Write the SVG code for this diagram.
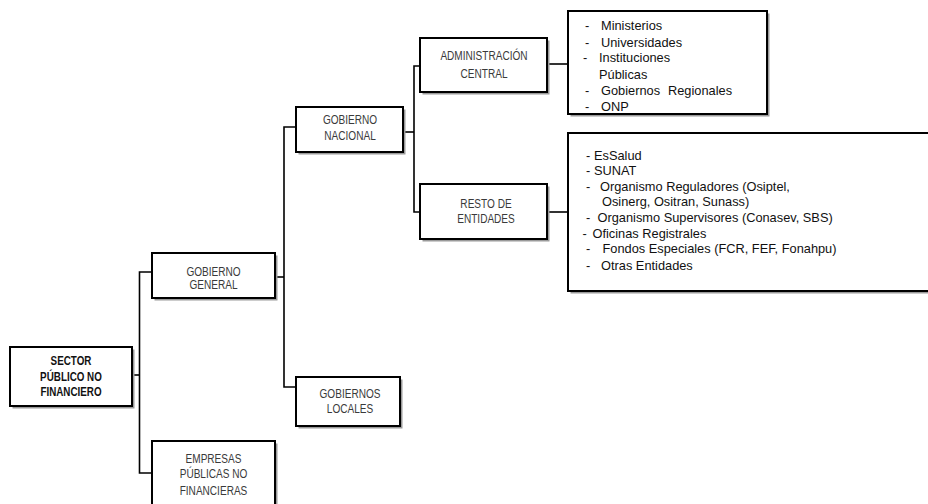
<svg xmlns="http://www.w3.org/2000/svg" width="928" height="504" viewBox="0 0 928 504">
<style>
.sh{fill:#9a9a9a;}
.bx{fill:#ffffff;stroke:#000000;stroke-width:2;}
.t{font-family:"Liberation Sans",Arial,sans-serif;font-size:12.6px;fill:#3a3a3a;text-anchor:middle;}
.tb{font-family:"Liberation Sans",Arial,sans-serif;font-size:12px;font-weight:bold;fill:#111111;text-anchor:middle;}
.l{font-family:"Liberation Sans",Arial,sans-serif;font-size:12.8px;fill:#111111;}
.c{fill:none;stroke:#000000;stroke-width:1.6;}
</style>
<rect width="928" height="504" fill="#ffffff"/>
<g id="connectors">
<polyline class="c" points="132,375 139.5,375"/>
<polyline class="c" points="152,272 139.5,272 139.5,473 152,473"/>
<polyline class="c" points="275,277 284,277"/>
<polyline class="c" points="296,127 284,127 284,387 296,387"/>
<polyline class="c" points="403,132 414,132"/>
<polyline class="c" points="420,66 414,66 414,212 420,212"/>
<polyline class="c" points="545,64 568,64"/>
<polyline class="c" points="547,212 568,212"/>
</g>
<g id="sector">
<rect class="sh" x="12.5" y="349.5" width="122" height="59"/>
<rect class="bx" x="10" y="347" width="122" height="59"/>
<text class="tb" transform="translate(71,365) scale(0.82,1)">SECTOR</text>
<text class="tb" transform="translate(71,381) scale(0.82,1)">PÚBLICO NO</text>
<text class="tb" transform="translate(71,395.5) scale(0.82,1)">FINANCIERO</text>
</g>
<g id="gobierno-general">
<rect class="sh" x="154.5" y="255.5" width="123" height="45"/>
<rect class="bx" x="152" y="253" width="123" height="45"/>
<text class="t" transform="translate(213.5,276) scale(0.8,1)">GOBIERNO</text>
<text class="t" transform="translate(213.5,289) scale(0.8,1)">GENERAL</text>
</g>
<g id="empresas">
<rect class="sh" x="154.5" y="443.5" width="123" height="70"/>
<rect class="bx" x="152" y="441" width="123" height="70"/>
<text class="t" transform="translate(213.5,463) scale(0.8,1)">EMPRESAS</text>
<text class="t" transform="translate(213.5,478) scale(0.8,1)">PÚBLICAS NO</text>
<text class="t" transform="translate(213.5,494.5) scale(0.8,1)">FINANCIERAS</text>
</g>
<g id="gobierno-nacional">
<rect class="sh" x="298.5" y="109.5" width="107" height="45"/>
<rect class="bx" x="296" y="107" width="107" height="45"/>
<text class="t" transform="translate(350,123.5) scale(0.8,1)">GOBIERNO</text>
<text class="t" transform="translate(350,139.5) scale(0.8,1)">NACIONAL</text>
</g>
<g id="gobiernos-locales">
<rect class="sh" x="298.5" y="379.5" width="104" height="49"/>
<rect class="bx" x="296" y="377" width="104" height="49"/>
<text class="t" transform="translate(350,397.5) scale(0.8,1)">GOBIERNOS</text>
<text class="t" transform="translate(350,412.5) scale(0.8,1)">LOCALES</text>
</g>
<g id="administracion-central">
<rect class="sh" x="422.5" y="40.5" width="127" height="54"/>
<rect class="bx" x="420" y="38" width="127" height="54"/>
<text class="t" transform="translate(484,60) scale(0.8,1)">ADMINISTRACIÓN</text>
<text class="t" transform="translate(484,77.5) scale(0.8,1)">CENTRAL</text>
</g>
<g id="resto-entidades">
<rect class="sh" x="422.5" y="186.5" width="127" height="55"/>
<rect class="bx" x="420" y="184" width="127" height="55"/>
<text class="t" transform="translate(486,207.5) scale(0.8,1)">RESTO DE</text>
<text class="t" transform="translate(486,222.5) scale(0.8,1)">ENTIDADES</text>
</g>
<g id="lista-administracion">
<rect class="sh" x="570.5" y="13.5" width="199" height="103"/>
<rect class="bx" x="568" y="11" width="199" height="103"/>
<text class="l"><tspan x="585" y="30">-</tspan><tspan x="601" y="30">Ministerios</tspan></text>
<text class="l"><tspan x="585" y="47">-</tspan><tspan x="601" y="47">Universidades</tspan></text>
<text class="l"><tspan x="583" y="62">-</tspan><tspan x="599" y="62">Instituciones</tspan></text>
<text class="l"><tspan x="599" y="78.5">Públicas</tspan></text>
<text class="l"><tspan x="585" y="95">-</tspan><tspan x="601" y="95">Gobiernos</tspan><tspan x="668" y="95">Regionales</tspan></text>
<text class="l"><tspan x="585" y="111">-</tspan><tspan x="601" y="111">ONP</tspan></text>
</g>
<g id="lista-resto">
<rect class="sh" x="570.5" y="135.5" width="370" height="158"/>
<rect class="bx" x="568" y="133" width="370" height="158"/>
<text class="l"><tspan x="586" y="159.5">-</tspan><tspan x="594" y="159.5">EsSalud</tspan></text>
<text class="l"><tspan x="586" y="174.5">-</tspan><tspan x="594" y="174.5">SUNAT</tspan></text>
<text class="l"><tspan x="586" y="190.5">-</tspan><tspan x="600" y="190.5">Organismo Reguladores (Osiptel,</tspan></text>
<text class="l"><tspan x="602" y="205.5">Osinerg, Ositran, Sunass)</tspan></text>
<text class="l"><tspan x="586" y="221.5">-</tspan><tspan x="597.5" y="221.5">Organismo Supervisores (Conasev, SBS)</tspan></text>
<text class="l"><tspan x="582.5" y="237.5">-</tspan><tspan x="592.5" y="237.5">Oficinas Registrales</tspan></text>
<text class="l"><tspan x="586" y="253">-</tspan><tspan x="602.5" y="253">Fondos Especiales (FCR, FEF, Fonahpu)</tspan></text>
<text class="l"><tspan x="586" y="269.5">-</tspan><tspan x="601" y="269.5">Otras Entidades</tspan></text>
</g>
</svg>
